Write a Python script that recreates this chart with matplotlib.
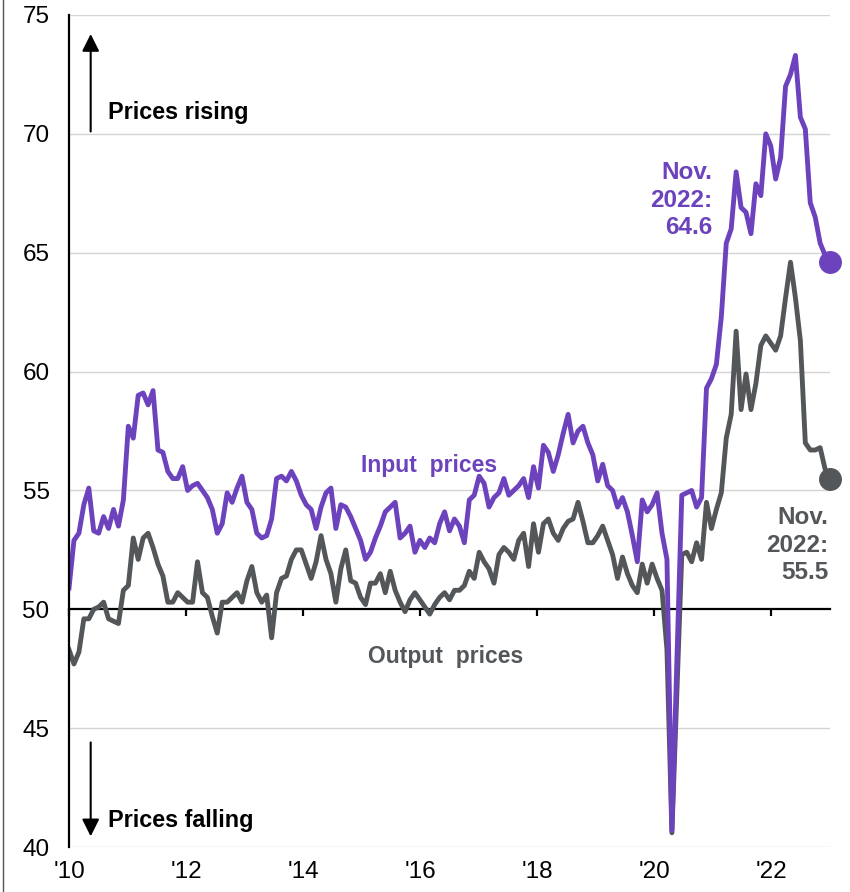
import matplotlib
matplotlib.use("Agg")
import matplotlib.pyplot as plt
import numpy as np
from matplotlib.lines import Line2D

# Monthly price indices (50 = no change), Jan 2010 - Nov 2022
input_prices = [
    50.9, 52.9, 53.2, 54.4, 55.1, 53.3, 53.2, 53.9, 53.4, 54.2,
    53.5, 54.6, 57.7, 57.2, 59.0, 59.1, 58.6, 59.2, 56.7, 56.6,
    55.8, 55.5, 55.5, 56.0, 55.0, 55.2, 55.3, 55.0, 54.7, 54.2,
    53.2, 53.6, 54.9, 54.5, 55.1, 55.6, 54.5, 54.2, 53.2, 53.0,
    53.1, 53.8, 55.5, 55.6, 55.4, 55.8, 55.4, 54.8, 54.4, 54.2,
    53.4, 54.3, 54.9, 55.1, 53.4, 54.4, 54.3, 53.9, 53.4, 52.9,
    52.1, 52.4, 53.0, 53.5, 54.1, 54.3, 54.5, 53.0, 53.2, 53.5,
    52.4, 52.9, 52.6, 53.0, 52.8, 53.6, 54.1, 53.3, 53.8, 53.5,
    52.8, 54.6, 54.8, 55.6, 55.3, 54.3, 54.7, 54.9, 55.5, 54.8,
    55.0, 55.2, 55.5, 54.7, 56.0, 55.1, 56.9, 56.6, 55.8, 56.5,
    57.4, 58.2, 57.0, 57.5, 57.7, 57.0, 56.5, 55.4, 56.1, 55.2,
    55.0, 54.3, 54.7, 54.1, 53.1, 52.0, 54.6, 54.1, 54.4, 54.9,
    53.2, 52.1, 40.7, 47.7, 54.8, 54.9, 55.0, 54.3, 54.7, 59.3,
    59.7, 60.3, 62.3, 65.4, 66.0, 68.4, 66.9, 66.7, 65.8, 67.9,
    67.4, 70.0, 69.5, 68.1, 69.0, 72.0, 72.5, 73.3, 70.7, 70.2,
    67.1, 66.5, 65.4, 64.9, 64.6,
]

output_prices = [
    48.3, 47.7, 48.2, 49.6, 49.6, 50.0, 50.1, 50.3, 49.6, 49.5,
    49.4, 50.8, 51.0, 53.0, 52.1, 53.0, 53.2, 52.6, 51.9, 51.4,
    50.3, 50.3, 50.7, 50.5, 50.3, 50.3, 52.0, 50.7, 50.5, 49.7,
    49.0, 50.3, 50.3, 50.5, 50.7, 50.3, 51.2, 51.8, 50.7, 50.3,
    50.6, 48.8, 50.7, 51.3, 51.4, 52.1, 52.5, 52.5, 51.9, 51.3,
    52.0, 53.1, 52.1, 51.5, 50.3, 51.7, 52.5, 51.2, 51.1, 50.5,
    50.2, 51.1, 51.1, 51.5, 50.7, 51.6, 50.8, 50.3, 49.9, 50.4,
    50.7, 50.4, 50.1, 49.8, 50.2, 50.5, 50.7, 50.4, 50.8, 50.8,
    51.0, 51.6, 51.3, 52.4, 52.0, 51.7, 51.1, 52.3, 52.6, 52.4,
    52.1, 52.9, 53.2, 51.8, 53.6, 52.4, 53.6, 53.8, 53.2, 52.9,
    53.4, 53.7, 53.8, 54.5, 53.7, 52.8, 52.8, 53.1, 53.5, 52.9,
    52.3, 51.3, 52.2, 51.5, 51.0, 50.7, 51.9, 51.1, 51.9, 51.3,
    50.8, 48.3, 40.6, 46.4, 52.3, 52.4, 52.0, 52.8, 52.1, 54.5,
    53.4, 54.2, 54.9, 57.2, 58.2, 61.7, 58.4, 59.9, 58.4, 59.5,
    61.1, 61.5, 61.2, 60.9, 61.5, 63.1, 64.6, 63.1, 61.3, 57.0,
    56.7, 56.7, 56.8, 55.9, 55.5,
]

year_ticks = [2010, 2012, 2014, 2016, 2018, 2020, 2022]
year_labels = ["'10", "'12", "'14", "'16", "'18", "'20", "'22"]
value_ticks = [40, 45, 50, 55, 60, 65, 70, 75]

PURPLE = "#6d43bd"
GREY = "#54575a"

plt.rcParams["font.family"] = ["Liberation Sans", "DejaVu Sans"]

fig = plt.figure(figsize=(8.5, 8.92), dpi=100)
ax = fig.add_axes([0.0812, 0.0504, 0.8953, 0.9328])

x = np.linspace(2010, 2023, len(input_prices))

ax.set_xlim(2010, 2023)
ax.set_ylim(40, 75)

# light horizontal grid, heavy line at 50
for v in value_ticks:
    if v != 50:
        ax.axhline(v, color="#d4d4d4", lw=1.0, zorder=0)

ax.plot(x, output_prices, color=GREY, lw=3.5, zorder=3)
ax.plot(x, input_prices, color=PURPLE, lw=3.5, zorder=4)
ax.plot(x[-1], output_prices[-1], "o", ms=15.5, color=GREY, zorder=5, clip_on=False)
ax.plot(x[-1], input_prices[-1], "o", ms=15.5, color=PURPLE, zorder=5, clip_on=False)

# spines: left axis line, x axis sitting on the 50 line
for side in ("top", "right"):
    ax.spines[side].set_visible(False)
ax.spines["left"].set_linewidth(1.6)
ax.spines["left"].set_zorder(6)
ax.spines["bottom"].set_position(("data", 50))
ax.spines["bottom"].set_linewidth(1.6)
ax.spines["bottom"].set_zorder(2)

ax.set_yticks(value_ticks)
ax.tick_params(axis="y", length=0, pad=14, labelsize=17.5)
ax.set_xticks(year_ticks)
ax.tick_params(axis="x", direction="out", length=5, width=1.6, labelbottom=False)

sec = ax.secondary_xaxis("bottom")
sec.set_xticks(year_ticks)
sec.set_xticklabels(year_labels)
sec.tick_params(axis="x", length=0, pad=10, labelsize=17.5)
sec.spines["bottom"].set_visible(False)

# direction arrows and captions
arrow_x = 2010.37
ax.annotate("", xy=(arrow_x, 74.2), xytext=(arrow_x, 70.1),
            arrowprops=dict(arrowstyle="-|>", color="black", lw=1.5,
                            mutation_scale=26, shrinkA=0, shrinkB=0))
ax.annotate("", xy=(arrow_x, 40.45), xytext=(arrow_x, 44.4),
            arrowprops=dict(arrowstyle="-|>", color="black", lw=1.5,
                            mutation_scale=26, shrinkA=0, shrinkB=0))
ax.text(2010.67, 70.9, "Prices rising", fontsize=16.8, fontweight="bold",
        ha="left", va="center")
ax.text(2010.67, 41.1, "Prices falling", fontsize=16.8, fontweight="bold",
        ha="left", va="center")

ax.text(2016.15, 56.06, "Input  prices", color=PURPLE, fontsize=16.5,
        fontweight="bold", ha="center", va="center")
ax.text(2016.43, 48.0, "Output  prices", color=GREY, fontsize=16.5,
        fontweight="bold", ha="center", va="center")

ax.text(2020.99, 67.2, f"Nov.\n2022:\n{input_prices[-1]:.1f}", color=PURPLE,
        fontsize=17.5, fontweight="bold", ha="right", va="center",
        multialignment="right", linespacing=1.25)
ax.text(2022.97, 52.7, f"Nov.\n2022:\n{output_prices[-1]:.1f}", color=GREY,
        fontsize=17.5, fontweight="bold", ha="right", va="center",
        multialignment="right", linespacing=1.25)

# thin frame line at the left edge of the figure
fig.add_artist(Line2D([0.004, 0.004], [0, 1], color="#555555", lw=1.0))

fig.savefig("out.png", dpi=100)
